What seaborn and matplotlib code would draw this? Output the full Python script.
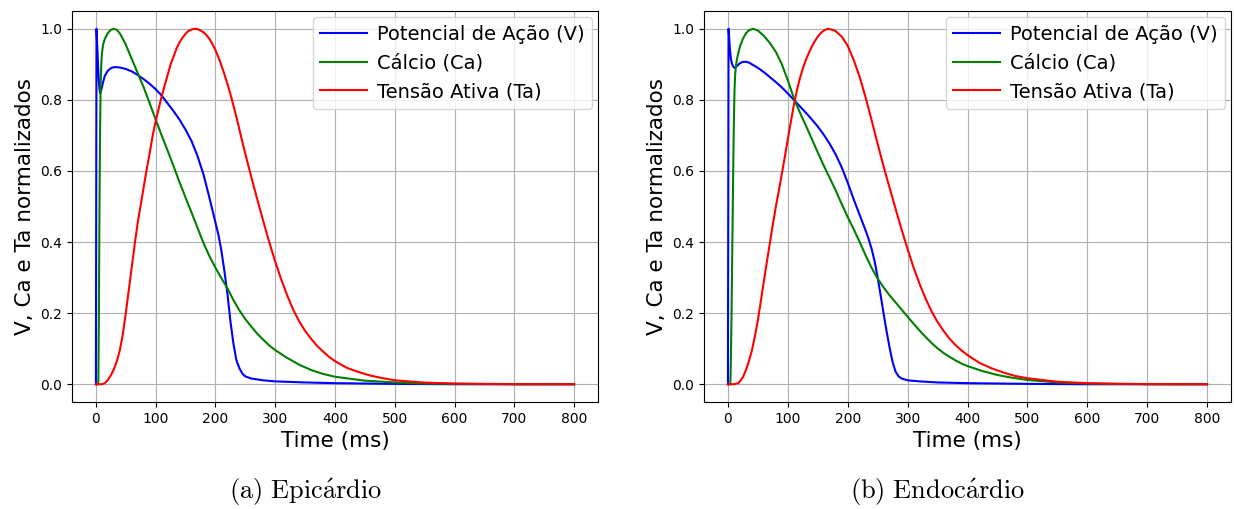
import numpy as np
import pandas as pd
import matplotlib
matplotlib.use("Agg")
import matplotlib.pyplot as plt
import seaborn as sns

# ---------------- data ----------------
# Epicárdio
epi_v_t = [0, 1, 2, 3, 4, 5, 6, 7, 8, 10, 12, 15, 20, 25, 30, 35, 40, 50, 60, 70, 80, 90,
           100, 110, 120, 130, 140, 150, 160, 170, 180, 190, 200, 205, 210, 215, 220, 225,
           230, 235, 240, 245, 250, 260, 280, 300, 350, 400, 450, 500, 600, 700, 800]
epi_v = [0, 1.0, 0.96, 0.92, 0.88, 0.85, 0.83, 0.82, 0.822, 0.835, 0.85, 0.868, 0.882,
         0.889, 0.892, 0.892, 0.891, 0.887, 0.88, 0.87, 0.858, 0.845, 0.83, 0.812, 0.79,
         0.768, 0.744, 0.716, 0.684, 0.642, 0.59, 0.524, 0.455, 0.42, 0.375, 0.318, 0.255,
         0.178, 0.115, 0.068, 0.045, 0.03, 0.022, 0.016, 0.011, 0.008, 0.005, 0.003, 0.002,
         0.001, 0.0, 0.0, 0.0]

epi_ca_t = [0, 4, 5, 6, 7, 8, 9, 10, 12, 15, 20, 25, 30, 35, 40, 45, 50, 55, 60, 70, 80, 90,
            100, 110, 120, 130, 140, 150, 160, 170, 180, 190, 200, 210, 220, 230, 240, 250,
            260, 270, 280, 290, 300, 320, 340, 360, 380, 400, 450, 500, 550, 600, 700, 800]
epi_ca = [0, 0, 0.2, 0.5, 0.72, 0.85, 0.9, 0.93, 0.955, 0.972, 0.988, 0.997, 1.0, 0.997,
          0.987, 0.972, 0.955, 0.935, 0.915, 0.875, 0.835, 0.79, 0.745, 0.70, 0.657, 0.613,
          0.568, 0.525, 0.483, 0.44, 0.397, 0.36, 0.328, 0.298, 0.27, 0.237, 0.208, 0.183,
          0.162, 0.142, 0.125, 0.109, 0.096, 0.074, 0.055, 0.04, 0.029, 0.021, 0.01, 0.005,
          0.002, 0.001, 0.0, 0.0]

epi_ta_t = [0, 10, 15, 20, 25, 30, 35, 40, 45, 50, 55, 60, 65, 70, 75, 80, 85, 90, 95, 100,
            105, 110, 115, 120, 125, 130, 135, 140, 145, 150, 155, 160, 165, 170, 175, 180,
            185, 190, 195, 200, 205, 210, 215, 220, 225, 230, 235, 240, 245, 250, 255, 260,
            265, 270, 275, 280, 285, 290, 295, 300, 310, 320, 330, 340, 350, 360, 370, 380,
            390, 400, 420, 440, 460, 480, 500, 550, 600, 650, 700, 800]
epi_ta = [0, 0, 0.003, 0.012, 0.025, 0.042, 0.065, 0.095, 0.14, 0.2, 0.265, 0.33, 0.395,
          0.455, 0.505, 0.555, 0.605, 0.65, 0.70, 0.74, 0.775, 0.81, 0.84, 0.87, 0.90,
          0.922, 0.945, 0.962, 0.975, 0.986, 0.994, 0.998, 1.0, 0.999, 0.995, 0.99, 0.982,
          0.971, 0.957, 0.94, 0.92, 0.897, 0.872, 0.845, 0.816, 0.785, 0.752, 0.717, 0.682,
          0.648, 0.615, 0.583, 0.551, 0.52, 0.489, 0.459, 0.429, 0.40, 0.372, 0.345, 0.295,
          0.25, 0.21, 0.177, 0.15, 0.128, 0.108, 0.092, 0.077, 0.065, 0.046, 0.034, 0.024,
          0.017, 0.011, 0.0045, 0.002, 0.001, 0.0003, 0.0]

# Endocárdio
endo_v_t = [0, 1, 2, 3, 4, 5, 7, 9, 11, 13, 16, 20, 25, 30, 35, 40, 50, 60, 70, 80, 90, 100,
            110, 120, 130, 140, 150, 160, 170, 180, 190, 200, 210, 220, 230, 235, 240, 245,
            250, 255, 260, 265, 270, 275, 280, 285, 290, 300, 320, 350, 400, 500, 600, 700, 800]
endo_v = [0, 1.0, 0.975, 0.95, 0.93, 0.915, 0.9, 0.893, 0.89, 0.892, 0.897, 0.903, 0.907,
          0.907, 0.905, 0.9, 0.89, 0.878, 0.864, 0.85, 0.835, 0.818, 0.80, 0.782, 0.764,
          0.745, 0.725, 0.702, 0.676, 0.646, 0.61, 0.567, 0.52, 0.476, 0.432, 0.408, 0.38,
          0.345, 0.30, 0.25, 0.198, 0.148, 0.102, 0.062, 0.035, 0.022, 0.016, 0.011, 0.008,
          0.005, 0.003, 0.001, 0.0, 0.0, 0.0]

endo_ca_t = [0, 4, 5, 6, 7, 8, 9, 10, 11, 12, 13, 15, 20, 25, 30, 35, 42, 50, 60, 70, 80, 90,
             100, 111, 120, 130, 140, 150, 160, 170, 180, 187, 200, 210, 220, 230, 240, 250,
             260, 270, 280, 290, 300, 310, 320, 330, 340, 350, 360, 370, 380, 390, 400, 425,
             450, 475, 500, 550, 600, 700, 800]
endo_ca = [0, 0, 0.08, 0.2, 0.35, 0.49, 0.63, 0.75, 0.83, 0.87, 0.89, 0.915, 0.95, 0.972,
           0.987, 0.996, 1.0, 0.995, 0.98, 0.96, 0.935, 0.90, 0.855, 0.80, 0.765, 0.728,
           0.69, 0.652, 0.615, 0.58, 0.545, 0.518, 0.47, 0.436, 0.40, 0.362, 0.327, 0.297,
           0.272, 0.25, 0.23, 0.21, 0.19, 0.17, 0.151, 0.133, 0.116, 0.101, 0.088, 0.077,
           0.067, 0.058, 0.051, 0.037, 0.026, 0.018, 0.012, 0.005, 0.002, 0.0, 0.0]

endo_ta_t = [0, 10, 17, 20, 25, 30, 35, 40, 45, 50, 55, 60, 65, 70, 75, 80, 85, 90, 95, 100,
             105, 110, 115, 120, 125, 130, 135, 140, 145, 150, 155, 160, 167, 175, 180, 190,
             200, 210, 220, 230, 240, 250, 260, 270, 280, 290, 300, 310, 320, 330, 340, 350,
             360, 370, 380, 390, 400, 420, 440, 460, 480, 500, 550, 600, 650, 700, 800]
endo_ta = [0, 0, 0.003, 0.008, 0.02, 0.04, 0.065, 0.095, 0.135, 0.18, 0.235, 0.29, 0.345,
           0.397, 0.45, 0.50, 0.545, 0.592, 0.64, 0.69, 0.738, 0.785, 0.826, 0.86, 0.888,
           0.912, 0.932, 0.95, 0.965, 0.978, 0.988, 0.995, 1.0, 0.997, 0.993, 0.978, 0.952,
           0.912, 0.864, 0.806, 0.742, 0.676, 0.612, 0.552, 0.493, 0.435, 0.38, 0.328, 0.282,
           0.241, 0.205, 0.175, 0.15, 0.128, 0.11, 0.095, 0.082, 0.06, 0.045, 0.033, 0.023,
           0.017, 0.007, 0.003, 0.0012, 0.0005, 0.0]

labels = ["Potencial de Ação (V)", "Cálcio (Ca)", "Tensão Ativa (Ta)"]
colors = ["blue", "green", "red"]
captions = ["(a) Epic\\acute{a}rdio", "(b) Endoc\\acute{a}rdio"]
xticks = [0, 100, 200, 300, 400, 500, 600, 700, 800]
yticks = [0.0, 0.2, 0.4, 0.6, 0.8, 1.0]

panels = [
    [(epi_v_t, epi_v), (epi_ca_t, epi_ca), (epi_ta_t, epi_ta)],
    [(endo_v_t, endo_v), (endo_ca_t, endo_ca), (endo_ta_t, endo_ta)],
]

# ---------------- figure ----------------
plt.rcParams["mathtext.fontset"] = "cm"
fig = plt.figure(figsize=(12.34, 5.09), dpi=100)
ax_rects = [[72 / 1234, 107 / 509, 526 / 1234, 391 / 509],
            [704 / 1234, 107 / 509, 527 / 1234, 391 / 509]]
cap_x = [305 / 1234, 937 / 1234]

for rect, series, cap, cx in zip(ax_rects, panels, captions, cap_x):
    ax = fig.add_axes(rect)
    for (t, v), lab, col in zip(series, labels, colors):
        sns.lineplot(x=t, y=v, ax=ax, color=col, label=lab, linewidth=1.5,
                     estimator=None, sort=False)
    ax.set_xticks(xticks)
    ax.set_yticks(yticks)
    ax.set_xlim(-40, 840)
    ax.set_ylim(-0.05, 1.05)
    ax.tick_params(labelsize=10)
    ax.grid(True, color="#b0b0b0", linewidth=0.8)
    ax.set_xlabel("Time (ms)", fontsize=15.5)
    ax.set_ylabel("V, Ca e Ta normalizados", fontsize=15.5)
    ax.legend(loc="upper right", fontsize=14, handlelength=2.4, handletextpad=0.5,
              borderaxespad=0.3)
    fig.text(cx, 1 - 492 / 509, "$\\mathrm{" + cap.replace(" ", "\\ ") + "}$",
             ha="center", va="center", fontsize=19)

fig.savefig("out.png", dpi=100)
